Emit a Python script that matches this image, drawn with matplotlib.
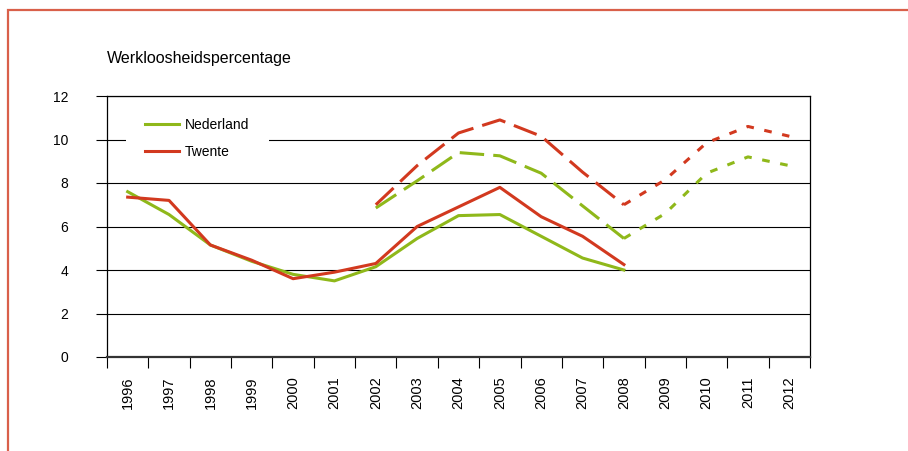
import numpy as np
import matplotlib
matplotlib.use("Agg")
import matplotlib.pyplot as plt
from matplotlib.patches import Rectangle

plt.rcParams['font.family'] = ['Liberation Sans', 'DejaVu Sans']

years = [str(y) for y in range(1996, 2013)]
nan = np.nan

# measured
ned = [7.6, 6.55, 5.15, 4.4, 3.8, 3.5, 4.15, 5.45, 6.5, 6.55, 5.55, 4.55, 4.0,
       nan, nan, nan, nan]
twe = [7.35, 7.2, 5.15, 4.45, 3.6, 3.9, 4.3, 6.0, 6.9, 7.8, 6.45, 5.55, 4.25,
       nan, nan, nan, nan]
# dashed series
ned_dash = [nan] * 6 + [6.85, 8.1, 9.4, 9.25, 8.45, 6.95, 5.45] + [nan] * 4
twe_dash = [nan] * 6 + [7.0, 8.8, 10.3, 10.9, 10.15, 8.5, 7.0] + [nan] * 4
# dotted series
ned_dot = [nan] * 12 + [5.45, 6.6, 8.45, 9.2, 8.8]
twe_dot = [nan] * 12 + [7.0, 8.15, 9.85, 10.6, 10.15]

green = '#8fb81a'
red = '#d2391f'

fig = plt.figure(figsize=(9.08, 4.51), dpi=100)
ax = fig.add_axes([107 / 908, 1 - 357 / 451, 703 / 908, 261 / 451])

x = np.arange(len(years))
lw = 2.2
ax.plot(x, ned, color=green, lw=lw, label='Nederland', zorder=3)
ax.plot(x, twe, color=red, lw=lw, label='Twente', zorder=3)
ax.plot(x, ned_dash, color=green, lw=lw, dashes=(8, 3), zorder=3)
ax.plot(x, twe_dash, color=red, lw=lw, dashes=(8, 3), zorder=3)
ax.plot(x, ned_dot, color=green, lw=lw, dashes=(2.5, 3.5), zorder=3)
ax.plot(x, twe_dot, color=red, lw=lw, dashes=(2.5, 3.5), zorder=3)

ax.set_xlim(-0.5, len(years) - 0.5)
ax.set_ylim(0, 12)
ax.set_yticks(range(0, 13, 2))
ax.yaxis.grid(True, color='black', lw=0.8)
ax.set_axisbelow(True)

ax.set_xticks(x)
ax.set_xticklabels(years, rotation=90, fontsize=10.5)
ax.set_xticks(np.arange(-0.5, len(years)), minor=True)
ax.tick_params(axis='x', which='major', length=0, pad=14)
ax.tick_params(axis='x', which='minor', length=8, width=0.8, direction='out')
ax.tick_params(axis='y', length=8, width=0.8, pad=20, labelsize=10)

for s in ['top', 'right', 'left']:
    ax.spines[s].set_linewidth(0.9)
ax.spines['bottom'].set_linewidth(1.6)
ax.spines['bottom'].set_color('#333333')

leg = ax.legend(loc='upper left', bbox_to_anchor=(0.027, 0.989), borderaxespad=0,
                frameon=True, fancybox=False, edgecolor='none', facecolor='white',
                framealpha=1, fontsize=10, handlelength=2.4, handletextpad=0.45,
                labelspacing=0.9, borderpad=1.4)

fig.text(107 / 908, 1 - 59 / 451, 'Werkloosheidspercentage', fontsize=11.5,
         va='center', ha='left')

# outer frame
fig.patches.append(Rectangle((7.5 / 908, -0.05), 1.1, 1 - 9.5 / 451 + 0.05,
                             transform=fig.transFigure, fill=False,
                             edgecolor='#d9604a', lw=1.6))

fig.savefig('out.png', dpi=100)
